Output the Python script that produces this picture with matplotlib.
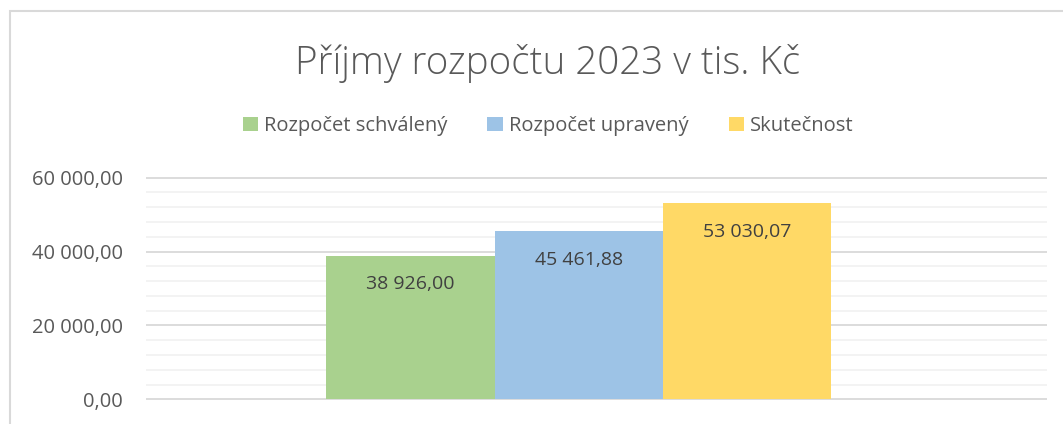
import matplotlib.pyplot as plt
from matplotlib.patches import Rectangle
from matplotlib.ticker import FuncFormatter, MultipleLocator

series = ['Rozpočet schválený', 'Rozpočet upravený', 'Skutečnost']
values = [38926.00, 45461.88, 53030.07]
colors = ['#A9D18E', '#9DC3E6', '#FFD966']
title = 'Příjmy rozpočtu 2023 v tis. Kč'

plt.rcParams['font.family'] = ['Open Sans', 'DejaVu Sans']


def cz_format(v, pos=None):
    s = f'{v:,.2f}'
    return s.replace(',', ' ').replace('.', ',')


fig = plt.figure(figsize=(10.63, 4.24), dpi=100)

# chart frame (cut off at right and bottom in the reference)
fig.patches.append(Rectangle((10 / 1063, -0.1), 1.2, 1.1 - 11 / 424,
                             transform=fig.transFigure, fill=False,
                             edgecolor='#d9d9d9', linewidth=1.5))

ax = fig.add_axes([146 / 1063, 1 - 401.5 / 424, 901 / 1063, 226 / 424])

positions = [-1, 0, 1]
for x, v, c, name in zip(positions, values, colors, series):
    ax.bar(x, v, width=1.0, color=c, label=name, zorder=3)
    ax.text(x, v - 7700, cz_format(v), ha='center', va='center',
            fontsize=14, color='#404040', zorder=4)

ax.set_xlim(-2.57, 2.78)
ax.set_ylim(-600, 60600)
ax.yaxis.set_major_locator(MultipleLocator(20000))
ax.yaxis.set_minor_locator(MultipleLocator(4000))
ax.yaxis.set_major_formatter(FuncFormatter(cz_format))
ax.grid(axis='y', which='major', color='#d9d9d9', linewidth=1.3, zorder=1)
ax.grid(axis='y', which='minor', color='#f2f2f2', linewidth=1.3, zorder=1)
ax.tick_params(axis='y', which='both', length=0, pad=16.5,
               labelsize=14.5, labelcolor='#595959')
ax.set_xticks([])
for s in ax.spines.values():
    s.set_visible(False)

fig.text(548 / 1063, 1 - 63 / 424, title, ha='center', va='center',
         fontsize=27.7, color='#595959', fontweight='light')

fig.legend(loc='center', bbox_to_anchor=(548 / 1063, 1 - 126 / 424),
           ncol=3, frameon=False, fontsize=14.5, handlelength=0.75,
           handleheight=0.75, handletextpad=0.3, columnspacing=2.0,
           labelcolor='#595959')

fig.savefig('out.png', dpi=100)
